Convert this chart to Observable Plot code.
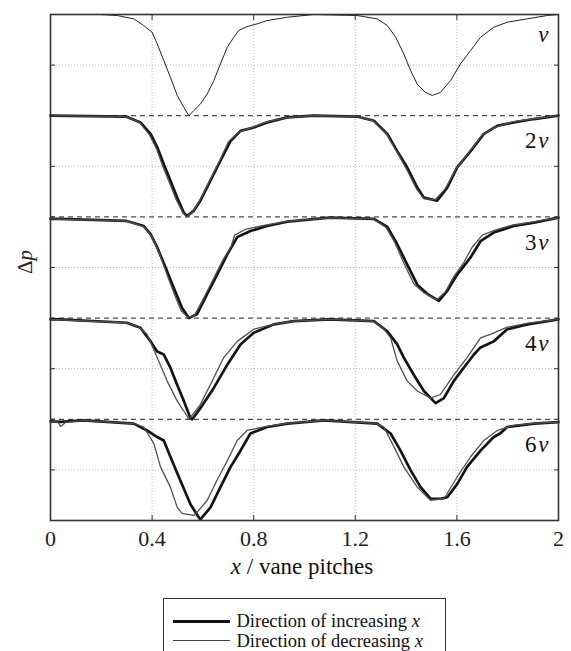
<!DOCTYPE html>
<html>
<head>
<meta charset="utf-8">
<script src="https://cdn.jsdelivr.net/npm/d3@7"></script>
<script src="https://cdn.jsdelivr.net/npm/@observablehq/plot@0.6"></script>
<style>
  html, body { margin: 0; padding: 0; background: #fff; }
  body { position: relative; width: 571px; height: 651px; overflow: hidden; font-family: "Liberation Serif", serif; }
  #chart svg, #chart svg text, #chart svg tspan { font-family: "Liberation Serif", serif !important; }
  #legend { position: absolute; left: 163px; top: 598px; width: 281px; height: 70px; border: 1.5px solid #333; background: #fff; }
  .swatch { position: absolute; left: 8.5px; width: 57px; }
  .ltext { position: absolute; left: 72.5px; font-size: 18.5px; line-height: 18px; height: 18px; color: #111; white-space: nowrap; font-family: "Liberation Serif", serif; }
</style>
</head>
<body>
<div id="chart"></div>
<div id="legend">
  <div class="swatch" style="top:20.7px;height:3px;background:#111"></div>
  <div class="ltext" style="top:12.9px">Direction of increasing <i>x</i></div>
  <div class="swatch" style="top:40.9px;height:1.5px;background:#444"></div>
  <div class="ltext" style="top:32.9px">Direction of decreasing <i>x</i></div>
</div>
<script>
// ---- data (x in vane pitches, normalized Δp; 0 = baseline, -1 = panel depth) ----
const panelPrefixes = ["", "2", "3", "4", "6"];
const xTicks = [0, 0.4, 0.8, 1.2, 1.6, 2];
const yTicks = [-4.5, -4, -3.5, -3, -2.5, -2, -1.5, -1, -0.5];
const midLevels = [-0.5, -1.5, -2.5, -3.5, -4.5];
const panelBounds = [-1, -2, -3, -4];

const p1 = [[0,0],[0.02,0],[0.197,0],[0.262,-0.01],[0.328,-0.043],[0.367,-0.109],[0.40,-0.175],[0.42,-0.29],[0.446,-0.455],[0.472,-0.62],[0.499,-0.80],[0.525,-0.918],[0.545,-1.0],[0.564,-0.95],[0.59,-0.885],[0.617,-0.785],[0.643,-0.653],[0.669,-0.488],[0.696,-0.323],[0.722,-0.224],[0.741,-0.158],[0.774,-0.119],[0.814,-0.092],[0.853,-0.06],[0.932,-0.027],[1.036,0],[1.207,-0.01],[1.286,-0.043],[1.326,-0.109],[1.358,-0.22],[1.391,-0.39],[1.417,-0.55],[1.444,-0.69],[1.476,-0.77],[1.503,-0.80],[1.535,-0.77],[1.575,-0.653],[1.614,-0.488],[1.654,-0.356],[1.693,-0.225],[1.745,-0.126],[1.798,-0.076],[1.877,-0.043],[1.956,-0.01],[2.0,0]];

const p2inc = [[0,0],[0.3,-0.01],[0.354,-0.066],[0.394,-0.18],[0.42,-0.31],[0.446,-0.48],[0.472,-0.64],[0.499,-0.81],[0.525,-0.96],[0.538,-0.99],[0.564,-0.94],[0.59,-0.84],[0.63,-0.64],[0.669,-0.445],[0.709,-0.25],[0.748,-0.15],[0.80,-0.116],[0.853,-0.066],[0.932,-0.017],[1.036,0],[1.21,-0.01],[1.273,-0.05],[1.326,-0.18],[1.365,-0.35],[1.404,-0.51],[1.444,-0.71],[1.47,-0.81],[1.522,-0.84],[1.562,-0.71],[1.601,-0.51],[1.654,-0.35],[1.706,-0.18],[1.759,-0.10],[1.824,-0.066],[1.903,-0.033],[2.0,0]];
const p2dec = [[0,0],[0.3,-0.01],[0.35,-0.066],[0.39,-0.19],[0.418,-0.33],[0.442,-0.5],[0.468,-0.66],[0.495,-0.83],[0.52,-0.95],[0.535,-1.0],[0.56,-0.95],[0.585,-0.85],[0.625,-0.65],[0.665,-0.45],[0.70,-0.26],[0.742,-0.16],[0.80,-0.11],[0.85,-0.06],[0.93,-0.02],[1.04,0],[1.21,-0.01],[1.27,-0.05],[1.32,-0.17],[1.36,-0.34],[1.40,-0.52],[1.44,-0.72],[1.47,-0.82],[1.515,-0.83],[1.555,-0.72],[1.595,-0.53],[1.648,-0.36],[1.70,-0.19],[1.755,-0.11],[1.82,-0.06],[1.90,-0.03],[2,0]];

const p3inc = [[0,-0.02],[0.033,-0.02],[0.30,-0.04],[0.367,-0.09],[0.394,-0.17],[0.42,-0.30],[0.453,-0.50],[0.485,-0.70],[0.518,-0.90],[0.545,-1.0],[0.577,-0.96],[0.617,-0.76],[0.656,-0.57],[0.696,-0.37],[0.735,-0.20],[0.787,-0.14],[0.853,-0.09],[0.932,-0.047],[1.10,-0.007],[1.273,-0.02],[1.326,-0.10],[1.365,-0.27],[1.404,-0.47],[1.444,-0.67],[1.483,-0.76],[1.529,-0.83],[1.562,-0.73],[1.601,-0.57],[1.654,-0.40],[1.693,-0.24],[1.745,-0.155],[1.824,-0.09],[1.903,-0.057],[2.0,-0.007]];
const p3dec = [[0,-0.02],[0.30,-0.04],[0.37,-0.10],[0.40,-0.2],[0.43,-0.37],[0.46,-0.58],[0.49,-0.78],[0.515,-0.93],[0.54,-0.99],[0.565,-0.98],[0.60,-0.82],[0.64,-0.62],[0.68,-0.42],[0.71,-0.3],[0.725,-0.18],[0.77,-0.12],[0.85,-0.08],[0.93,-0.045],[1.1,-0.01],[1.27,-0.02],[1.32,-0.1],[1.355,-0.25],[1.39,-0.45],[1.43,-0.66],[1.47,-0.75],[1.52,-0.82],[1.555,-0.74],[1.585,-0.6],[1.625,-0.46],[1.66,-0.3],[1.70,-0.18],[1.75,-0.13],[1.82,-0.08],[1.90,-0.05],[2,-0.01]];

const p4inc = [[0,-0.013],[0.033,-0.013],[0.30,-0.046],[0.354,-0.096],[0.394,-0.23],[0.42,-0.33],[0.446,-0.36],[0.472,-0.49],[0.499,-0.66],[0.525,-0.82],[0.551,-0.99],[0.558,-1.0],[0.59,-0.89],[0.643,-0.69],[0.696,-0.46],[0.748,-0.26],[0.80,-0.145],[0.879,-0.062],[0.958,-0.03],[1.10,-0.013],[1.273,-0.03],[1.326,-0.13],[1.365,-0.26],[1.391,-0.39],[1.43,-0.56],[1.47,-0.72],[1.516,-0.84],[1.549,-0.79],[1.588,-0.62],[1.627,-0.49],[1.667,-0.36],[1.693,-0.29],[1.745,-0.23],[1.798,-0.11],[1.877,-0.062],[2.0,-0.013]];
const p4dec = [[0,-0.013],[0.30,-0.046],[0.35,-0.09],[0.38,-0.16],[0.42,-0.39],[0.459,-0.62],[0.499,-0.82],[0.538,-0.97],[0.545,-1.0],[0.59,-0.855],[0.643,-0.59],[0.682,-0.39],[0.735,-0.23],[0.80,-0.11],[0.88,-0.06],[0.96,-0.03],[1.10,-0.013],[1.27,-0.03],[1.31,-0.1],[1.339,-0.195],[1.365,-0.425],[1.404,-0.62],[1.444,-0.72],[1.496,-0.79],[1.535,-0.755],[1.588,-0.56],[1.64,-0.39],[1.693,-0.195],[1.732,-0.16],[1.798,-0.09],[1.88,-0.05],[2,-0.013]];

const p6inc = [[0,-0.02],[0.039,-0.026],[0.13,-0.01],[0.328,-0.043],[0.38,-0.11],[0.42,-0.175],[0.446,-0.21],[0.472,-0.37],[0.512,-0.61],[0.551,-0.84],[0.584,-0.97],[0.59,-0.99],[0.63,-0.87],[0.669,-0.67],[0.709,-0.47],[0.748,-0.31],[0.787,-0.14],[0.853,-0.076],[0.932,-0.043],[1.076,-0.01],[1.286,-0.043],[1.339,-0.14],[1.378,-0.31],[1.417,-0.50],[1.457,-0.67],[1.496,-0.785],[1.535,-0.785],[1.562,-0.77],[1.601,-0.64],[1.64,-0.47],[1.693,-0.31],[1.745,-0.175],[1.77,-0.14],[1.798,-0.076],[1.903,-0.043],[2.0,-0.027]];
const p6dec = [[0,-0.02],[0.03,-0.03],[0.04,-0.07],[0.06,-0.03],[0.13,-0.01],[0.33,-0.043],[0.367,-0.076],[0.407,-0.24],[0.433,-0.47],[0.472,-0.67],[0.499,-0.87],[0.518,-0.93],[0.564,-0.95],[0.577,-0.92],[0.617,-0.80],[0.656,-0.60],[0.696,-0.41],[0.735,-0.21],[0.774,-0.11],[0.85,-0.07],[0.93,-0.04],[1.08,-0.01],[1.28,-0.04],[1.312,-0.076],[1.352,-0.27],[1.391,-0.47],[1.444,-0.67],[1.496,-0.80],[1.549,-0.785],[1.601,-0.57],[1.654,-0.37],[1.706,-0.21],[1.759,-0.11],[1.824,-0.06],[1.90,-0.04],[2,-0.027]];

// ---- build tables ----
const single = [{panel: 0, pts: p1}];
const increasing = [{panel: 1, pts: p2inc}, {panel: 2, pts: p3inc}, {panel: 3, pts: p4inc}, {panel: 4, pts: p6inc}];
const decreasing = [{panel: 1, pts: p2dec}, {panel: 2, pts: p3dec}, {panel: 3, pts: p4dec}, {panel: 4, pts: p6dec}];
const flat = (list) => list.flatMap(({panel, pts}) => pts.map(([x, v]) => ({panel, x, y: v - panel})));
const tSingle = flat(single), tInc = flat(increasing), tDec = flat(decreasing);
const labels = panelPrefixes.map((p, i) => ({pre: p, y: -i - (p ? 0.25 : 0.2)}));

const serif = "Liberation Serif, serif";
const plot = Plot.plot({
  width: 571, height: 590,
  marginLeft: 50, marginRight: 13, marginTop: 14, marginBottom: 70,
  style: {fontFamily: serif, background: "#fff"},
  x: {domain: [0, 2], label: null},
  y: {domain: [-5, 0], label: null},
  marks: [
    Plot.gridX(xTicks.slice(1, -1), {stroke: "#bbb", strokeOpacity: 1, strokeDasharray: "1,2"}),
    Plot.gridY(midLevels, {stroke: "#bbb", strokeOpacity: 1, strokeDasharray: "1,2"}),
    Plot.ruleY(panelBounds, {stroke: "#222", strokeWidth: 1, strokeDasharray: "5,4"}),
    Plot.line(tInc, {x: "x", y: "y", z: "panel", stroke: "#141414", strokeWidth: 2.7, strokeLinejoin: "round"}),
    Plot.line(tDec, {x: "x", y: "y", z: "panel", stroke: "#505050", strokeWidth: 1.3, strokeLinejoin: "round"}),
    Plot.line(tSingle, {x: "x", y: "y", z: "panel", stroke: "#222", strokeWidth: 1}),
    Plot.axisY(yTicks, {anchor: "left", tickSize: -5, fill: "none", stroke: "#333", label: null}),
    Plot.axisY(midLevels, {anchor: "right", tickSize: -5, fill: "none", stroke: "#333", label: null}),
    Plot.axisX(xTicks.slice(1, -1), {anchor: "top", tickSize: -5, fill: "none", stroke: "#333", label: null}),
    Plot.axisX(xTicks.slice(1, -1), {anchor: "bottom", tickSize: -5, fill: "none", stroke: "#333", label: null}),
    Plot.axisX(xTicks, {anchor: "bottom", tickSize: 0, tickPadding: 10, fontSize: 22, fill: "#222", label: null, tickFormat: d => String(d)}),
    Plot.frame({stroke: "#333", strokeWidth: 1.6}),
    Plot.text(labels, {x: 2, y: "y", text: () => "v", dx: -10, textAnchor: "end", fontSize: 23, fontStyle: "italic", fill: "#111"}),
    Plot.text(labels, {x: 2, y: "y", text: "pre", dx: -22, textAnchor: "end", fontSize: 23, fill: "#111"})
  ]
});
document.getElementById("chart").appendChild(plot);

// axis titles with mixed italics
const svg = d3.select(plot);
const xs = plot.scale("x"), ys = plot.scale("y");
const xl = svg.append("text").attr("x", xs.apply(1) - 2).attr("y", 574).attr("text-anchor", "middle")
  .attr("font-size", 23).attr("fill", "#111");
xl.append("tspan").attr("font-style", "italic").text("x");
xl.append("tspan").text(" / vane pitches");
const yl = svg.append("text").attr("transform", `translate(32,${ys.apply(-2.5) - 5}) rotate(-90)`).attr("text-anchor", "middle")
  .attr("font-size", 21).attr("fill", "#222");
yl.append("tspan").text("Δ");
yl.append("tspan").attr("font-style", "italic").text("p");
</script>
</body>
</html>
